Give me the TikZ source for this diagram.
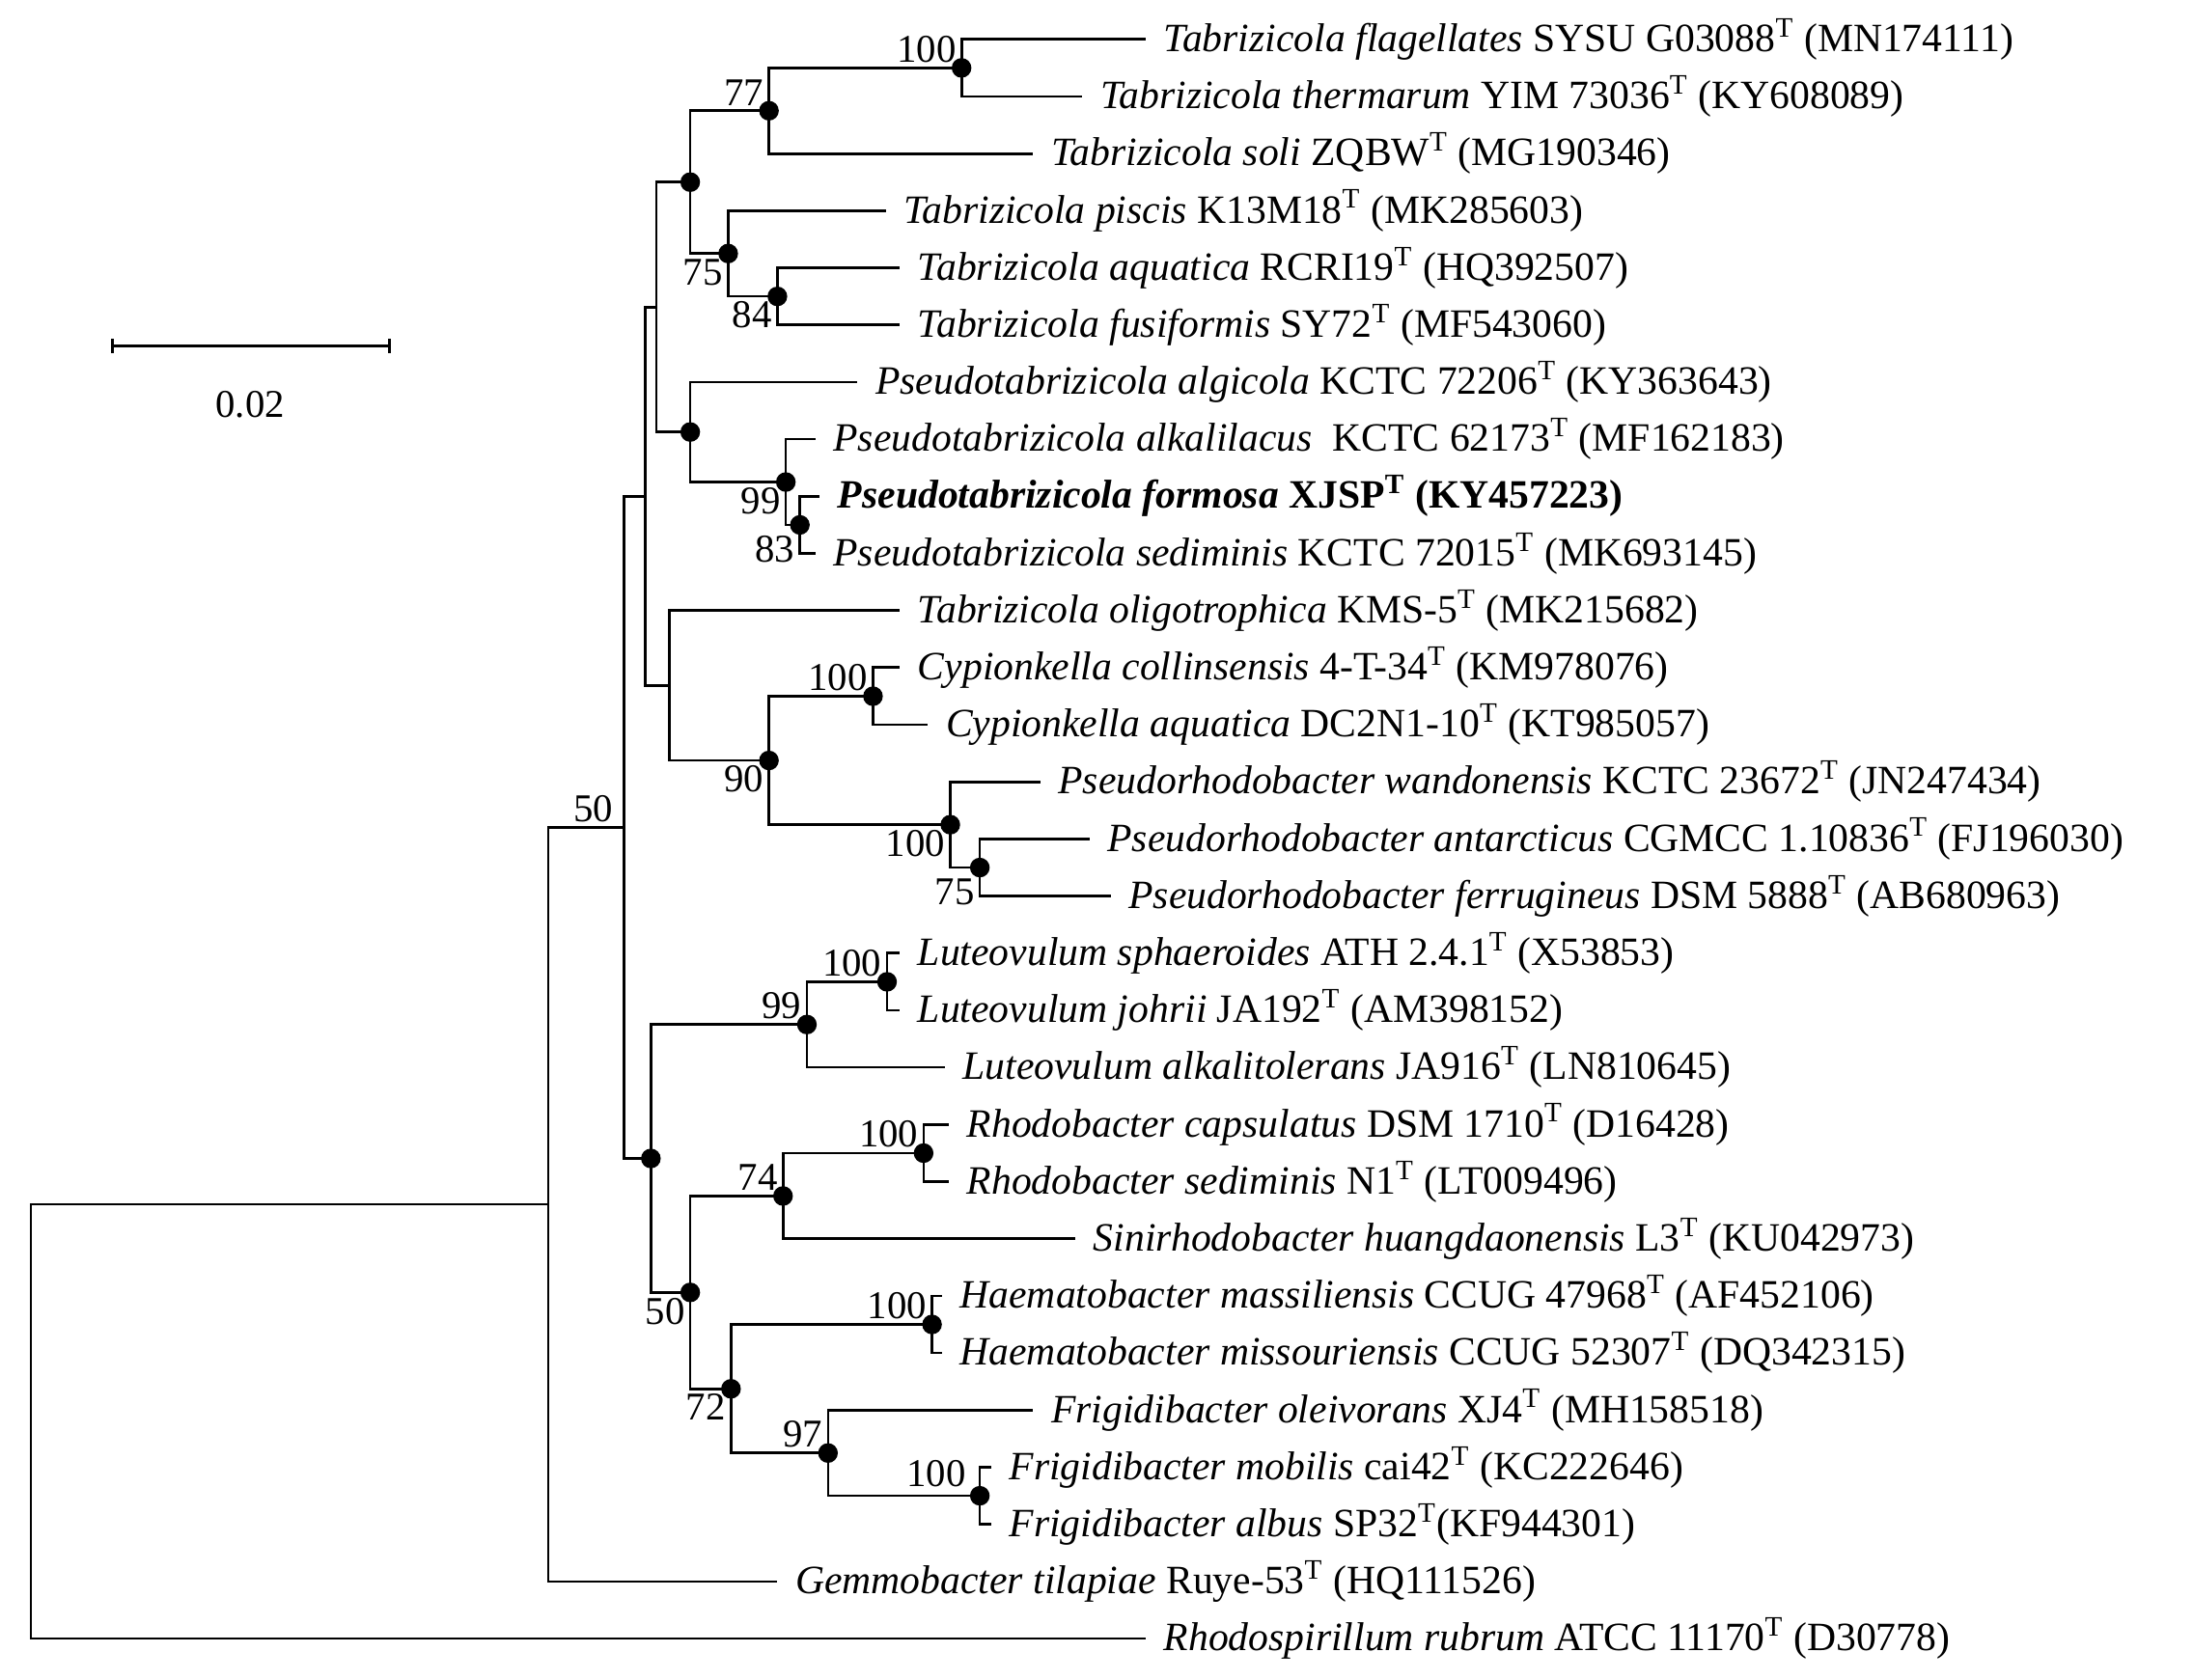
\documentclass[tikz,border=0pt]{standalone}
\usepackage{fontspec}
\setmainfont{Liberation Serif}
\begin{document}
\begin{tikzpicture}[x=0.5pt,y=-0.5pt,line width=0.9pt,
  leaf/.style={anchor=west,inner xsep=6pt,inner ysep=0pt,font=\fontsize{14.3}{15}\selectfont},
  bs/.style={inner sep=1.5pt,font=\fontsize{14}{15}\selectfont},
  dot/.style={circle,fill=black,inner sep=0pt,minimum size=7pt}]
\useasboundingbox (0,0) rectangle (1560,1195);
\newcommand{\T}{\textsuperscript{T}}
% leaves
\node[leaf] (l1) at (815,28) {\textit{Tabrizicola flagellates} SYSU G03088\T{} (MN174111)};
\node[leaf] (l2) at (770,68.6) {\textit{Tabrizicola thermarum} YIM 73036\T{} (KY608089)};
\node[leaf] (l3) at (735,109.3) {\textit{Tabrizicola soli} ZQBW\T{} (MG190346)};
\node[leaf] (l4) at (630,149.9) {\textit{Tabrizicola piscis} K13M18\T{} (MK285603)};
\node[leaf] (l5) at (640,190.6) {\textit{Tabrizicola aquatica} RCRI19\T{} (HQ392507)};
\node[leaf] (l6) at (640,231.2) {\textit{Tabrizicola fusiformis} SY72\T{} (MF543060)};
\node[leaf] (l7) at (610,271.8) {\textit{Pseudotabrizicola algicola} KCTC 72206\T{} (KY363643)};
\node[leaf] (l8) at (580,312.5) {\textit{Pseudotabrizicola alkalilacus}\ \ KCTC 62173\T{} (MF162183)};
\node[leaf] (l9) at (583,353.1) {\bfseries\textit{Pseudotabrizicola formosa} XJSP\T{} (KY457223)};
\node[leaf] (l10) at (580,393.8) {\textit{Pseudotabrizicola sediminis} KCTC 72015\T{} (MK693145)};
\node[leaf] (l11) at (640,434.4) {\textit{Tabrizicola oligotrophica} KMS-5\T{} (MK215682)};
\node[leaf] (l12) at (640,475) {\textit{Cypionkella collinsensis} 4-T-34\T{} (KM978076)};
\node[leaf] (l13) at (660,515.7) {\textit{Cypionkella aquatica} DC2N1-10\T{} (KT985057)};
\node[leaf] (l14) at (740,556.3) {\textit{Pseudorhodobacter wandonensis} KCTC 23672\T{} (JN247434)};
\node[leaf] (l15) at (775,597) {\textit{Pseudorhodobacter antarcticus} CGMCC 1.10836\T{} (FJ196030)};
\node[leaf] (l16) at (790,637.6) {\textit{Pseudorhodobacter ferrugineus} DSM 5888\T{} (AB680963)};
\node[leaf] (l17) at (640,678.2) {\textit{Luteovulum sphaeroides} ATH 2.4.1\T{} (X53853)};
\node[leaf] (l18) at (640,718.9) {\textit{Luteovulum johrii} JA192\T{} (AM398152)};
\node[leaf] (l19) at (672,759.5) {\textit{Luteovulum alkalitolerans} JA916\T{} (LN810645)};
\node[leaf] (l20) at (675,800.2) {\textit{Rhodobacter capsulatus} DSM 1710\T{} (D16428)};
\node[leaf] (l21) at (675,840.8) {\textit{Rhodobacter sediminis} N1\T{} (LT009496)};
\node[leaf] (l22) at (765,881.4) {\textit{Sinirhodobacter huangdaonensis} L3\T{} (KU042973)};
\node[leaf] (l23) at (670,922.1) {\textit{Haematobacter massiliensis} CCUG 47968\T{} (AF452106)};
\node[leaf] (l24) at (670,962.7) {\textit{Haematobacter missouriensis} CCUG 52307\T{} (DQ342315)};
\node[leaf] (l25) at (735,1003.4) {\textit{Frigidibacter oleivorans} XJ4\T{} (MH158518)};
\node[leaf] (l26) at (705,1044) {\textit{Frigidibacter mobilis} cai42\T{} (KC222646)};
\node[leaf] (l27) at (705,1084.6) {\textit{Frigidibacter albus} SP32\T(KF944301)};
\node[leaf] (l28) at (553,1125.3) {\textit{Gemmobacter tilapiae} Ruye-53\T{} (HQ111526)};
\node[leaf] (l29) at (815,1165.9) {\textit{Rhodospirillum rubrum} ATCC 11170\T{} (D30778)};
% internal nodes
\coordinate (A) at (684,48.3);
\coordinate (B) at (547,78.8);
\coordinate (C) at (553,210.9);
\coordinate (D) at (518,180.4);
\coordinate (E) at (491,129.6);
\coordinate (F) at (569,373.5);
\coordinate (G) at (559,343);
\coordinate (H) at (491,307.4);
\coordinate (I) at (467,218.5);
\coordinate (J) at (621,495.4);
\coordinate (K) at (697,617.3);
\coordinate (L) at (676,586.8);
\coordinate (M) at (547,541.1);
\coordinate (N) at (476,487.8);
\coordinate (O) at (459,353.2);
\coordinate (P) at (631,698.6);
\coordinate (Q) at (574,729);
\coordinate (R) at (657,820.5);
\coordinate (S) at (557,851);
\coordinate (Tn) at (663,942.4);
\coordinate (U) at (697,1064.3);
\coordinate (V) at (589,1033.9);
\coordinate (W) at (520,988.2);
\coordinate (X) at (491,919.6);
\coordinate (Y) at (463,824.3);
\coordinate (Z) at (444,588.8);
\coordinate (AA) at (390,857);
\coordinate (RT) at (22,1011.4);
% edges
\foreach \p/\a/\b in {A/l1/l2, B/A/l3, C/l5/l6, D/l4/C, E/B/D, F/l9/l10, G/l8/F, H/l7/G, I/E/H,
  J/l12/l13, K/l15/l16, L/l14/K, M/J/L, N/l11/M, O/I/N, P/l17/l18, Q/P/l19, R/l20/l21, S/R/l22,
  Tn/l23/l24, U/l26/l27, V/l25/U, W/Tn/V, X/S/W, Y/Q/X, Z/O/Y, AA/Z/l28}
  {\draw (\p) |- (\a.west); \draw (\p) |- (\b.west);}
\draw (RT) |- (AA); \draw (RT) |- (l29.west);
% dots
\foreach \n in {A,B,C,D,E,F,G,H,J,K,L,M,P,Q,R,S,Tn,U,V,W,X,Y}
  \node[dot] (d\n) at (\n) {};
% bootstrap labels
\node[bs,anchor=south east] (bA) at (A) {100};
\node[bs,anchor=south east] (bB) at (B) {77};
\node[bs,anchor=north east] (bC) at (C) {84};
\node[bs,anchor=north east] (bD) at (D) {75};
\node[bs,anchor=north east] (bF) at ([yshift=-2pt]F) {83};
\node[bs,anchor=north east] (bG) at (G) {99};
\node[bs,anchor=south east] (bJ) at (J) {100};
\node[bs,anchor=north east] (bK) at ([yshift=-2pt]K) {75};
\node[bs,anchor=north east] (bL) at (L) {100};
\node[bs,anchor=north east] (bM) at (M) {90};
\node[bs,anchor=south east] (bZ) at ([xshift=-2pt]Z) {50};
\node[bs,anchor=south east] (bP) at (P) {100};
\node[bs,anchor=south east] (bQ) at (Q) {99};
\node[bs,anchor=south east] (bR) at (R) {100};
\node[bs,anchor=south east] (bS) at (S) {74};
\node[bs,anchor=south east] (bT) at (Tn) {100};
\node[bs,anchor=east] (bU) at ([xshift=-3pt,yshift=8pt]U) {100};
\node[bs,anchor=south east] (bV) at (V) {97};
\node[bs,anchor=north east] (bW) at (W) {72};
\node[bs,anchor=north east] (bX) at (X) {50};
% scale bar
\coordinate (sb1) at (80,246); \coordinate (sb2) at (277,246);
\draw (sb1) -- (sb2);
\draw (sb1) ++(0,-5) -- ++(0,10); \draw (sb2) ++(0,-5) -- ++(0,10);
\node[bs] (sbl) at (178,288) {0.02};
\end{tikzpicture}
\end{document}
